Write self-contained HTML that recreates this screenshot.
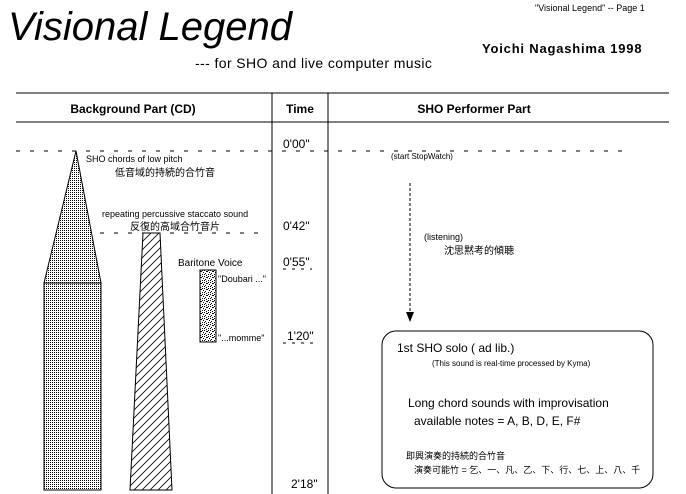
<!DOCTYPE html>
<html><head><meta charset="utf-8"><style>
html,body{margin:0;padding:0;background:#fff;}
svg{display:block;}
text{font-family:"Liberation Sans","Noto Sans CJK JP",sans-serif;fill:#000;}
</style></head><body>
<svg width="686" height="494" viewBox="0 0 686 494" xmlns="http://www.w3.org/2000/svg">
<defs>
<pattern id="dots" width="2" height="2" patternUnits="userSpaceOnUse"><rect width="2" height="2" fill="#fff"/><rect width="1" height="1" fill="#000"/></pattern>
<pattern id="hatch" width="8" height="8" patternUnits="userSpaceOnUse"><rect width="8" height="8" fill="#fff"/><path d="M0 8 L8 0 M-2 2 L2 -2 M6 10 L10 6" stroke="#000" stroke-width="0.8"/></pattern>
<pattern id="noise" width="6" height="6" patternUnits="userSpaceOnUse"><rect width="6" height="6" fill="#fff"/><rect x="0" y="0" width="1" height="1" fill="#000"/><rect x="3" y="1" width="1" height="1" fill="#000"/><rect x="1" y="3" width="1" height="1" fill="#000"/><rect x="4" y="4" width="1" height="1" fill="#000"/><rect x="2" y="5" width="1" height="1" fill="#000"/><rect x="5" y="2" width="1" height="1" fill="#000"/><rect x="2" y="1" width="1" height="1" fill="#000"/><rect x="4" y="0" width="1" height="1" fill="#000"/><rect x="0" y="4" width="1" height="1" fill="#000"/></pattern>
</defs>
<text x="535" y="11" font-size="9">"Visional Legend" -- Page 1</text>
<text x="8" y="40" font-size="40" font-style="italic">Visional Legend</text>
<text x="195" y="68" font-size="14" letter-spacing="0.4">--- for SHO and live computer music</text>
<text x="482" y="53" font-size="13" font-weight="bold" letter-spacing="0.8">Yoichi Nagashima  1998</text>

<line x1="16" y1="93" x2="669" y2="93" stroke="#000"/>
<line x1="16" y1="122" x2="669" y2="122" stroke="#000"/>
<line x1="272" y1="93" x2="272" y2="494" stroke="#000"/>
<line x1="328" y1="93" x2="328" y2="494" stroke="#000"/>
<text x="133" y="113" font-size="12" font-weight="bold" text-anchor="middle">Background Part (CD)</text>
<text x="300" y="113" font-size="12" font-weight="bold" text-anchor="middle">Time</text>
<text x="474" y="113" font-size="12" font-weight="bold" text-anchor="middle">SHO Performer Part</text>

<line x1="16" y1="151" x2="632" y2="151" stroke="#000" stroke-dasharray="4,10"/>
<line x1="100" y1="233" x2="268" y2="233" stroke="#000" stroke-dasharray="4,10"/>

<polygon points="76,151 44,283 101,283" fill="url(#dots)" stroke="#000"/>
<rect x="44" y="283" width="57" height="207" fill="url(#dots)" stroke="#000"/>
<polygon points="143,233 160,233 172,490 130,490" fill="url(#hatch)" stroke="#000"/>
<rect x="200" y="270" width="16" height="72" fill="url(#noise)" stroke="#000"/>

<text x="86" y="162" font-size="9">SHO chords of low pitch</text>
<text x="115" y="176" font-size="10">低音域的持続的合竹音</text>
<text x="102" y="217" font-size="9">repeating percussive staccato sound</text>
<text x="130" y="230" font-size="10">反復的高域合竹音片</text>
<text x="178" y="266" font-size="10">Baritone Voice</text>
<text x="218" y="282" font-size="9">"Doubari ..."</text>
<text x="218" y="341" font-size="9">"...momme"</text>

<g font-size="12">
<text x="283" y="148">0'00"</text>
<text x="283" y="230">0'42"</text>
<text x="283" y="266">0'55"</text>
<text x="287" y="340">1'20"</text>
<text x="291" y="488">2'18"</text>
</g>
<g stroke="#000" stroke-dasharray="3,6">
<line x1="283" y1="269" x2="312" y2="269"/>
<line x1="283" y1="343" x2="316" y2="343"/>
</g>

<text x="391" y="159" font-size="8">(start StopWatch)</text>
<line x1="410" y1="183" x2="410" y2="316" stroke="#000" stroke-dasharray="3,2"/>
<polygon points="406,312 414,312 410,322" fill="#000"/>
<text x="424" y="240" font-size="9">(listening)</text>
<text x="444" y="254" font-size="10">沈思黙考的傾聴</text>

<rect x="382" y="331" width="271" height="157" rx="14" ry="14" fill="#fff" stroke="#000"/>
<text x="397" y="352" font-size="12">1st SHO solo ( ad lib.)</text>
<text x="432" y="366" font-size="8">(This sound is real-time processed by Kyma)</text>
<text x="408" y="407" font-size="12">Long chord sounds with improvisation</text>
<text x="414" y="425" font-size="12">available notes = A, B, D, E, F#</text>
<text x="406" y="459" font-size="9">即興演奏的持続的合竹音</text>
<text x="414" y="473" font-size="9">演奏可能竹 = 乞、一、凡、乙、下、行、七、上、八、千</text>
</svg>
</body></html>
